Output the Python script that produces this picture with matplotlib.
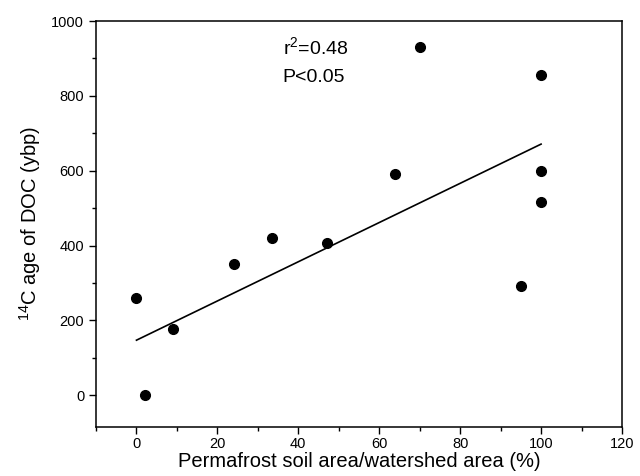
import matplotlib
matplotlib.use("Agg")
import matplotlib.pyplot as plt
from matplotlib.ticker import MultipleLocator
import numpy as np

plt.rcParams['font.family'] = ['Liberation Sans', 'DejaVu Sans']
plt.rcParams['mathtext.fontset'] = 'custom'
plt.rcParams['mathtext.rm'] = 'Liberation Sans'

permafrost_pct = [0, 2, 9, 24, 33.5, 47, 64, 70, 95, 100, 100, 100]
c14_age = [260, 0, 177, 350, 421, 407, 591, 930, 291, 855, 600, 515]
fit_intercept = 147
fit_slope = 5.24
fit_x = [0, 100]

fig = plt.figure(figsize=(6.4, 4.76), dpi=100)
ax = fig.add_axes([96/640, 1-427/476, 526/640, 406/476])

ax.plot(permafrost_pct, c14_age, 'o', color='black', markersize=7)
fx = np.array(fit_x)
ax.plot(fx, fit_intercept + fit_slope*fx, color='black', lw=1.2)

ax.set_xlim(-10, 120)
ax.set_ylim(-85, 1000)
ax.xaxis.set_major_locator(MultipleLocator(20))
ax.xaxis.set_minor_locator(MultipleLocator(10))
ax.yaxis.set_major_locator(MultipleLocator(200))
ax.yaxis.set_minor_locator(MultipleLocator(100))
ax.tick_params(which='both', direction='out', top=False, right=False, labelsize=10.5)
ax.tick_params(axis='x', which='major', pad=2)
ax.tick_params(which='major', length=5, width=1)
ax.tick_params(which='minor', length=3, width=1)
for s in ax.spines.values():
    s.set_linewidth(1.1)

ax.set_xlabel('Permafrost soil area/watershed area (%)', fontsize=14.5, labelpad=1)
ax.set_ylabel(r'$^{14}$C age of DOC (ybp)', fontsize=14.5, labelpad=6)

ax.text(0.355, 0.933, r'r$^{2}$=0.48', transform=ax.transAxes, fontsize=14, va='center')
ax.text(0.355, 0.860, 'P<0.05', transform=ax.transAxes, fontsize=14, va='center')

fig.savefig('out.png', dpi=100)
